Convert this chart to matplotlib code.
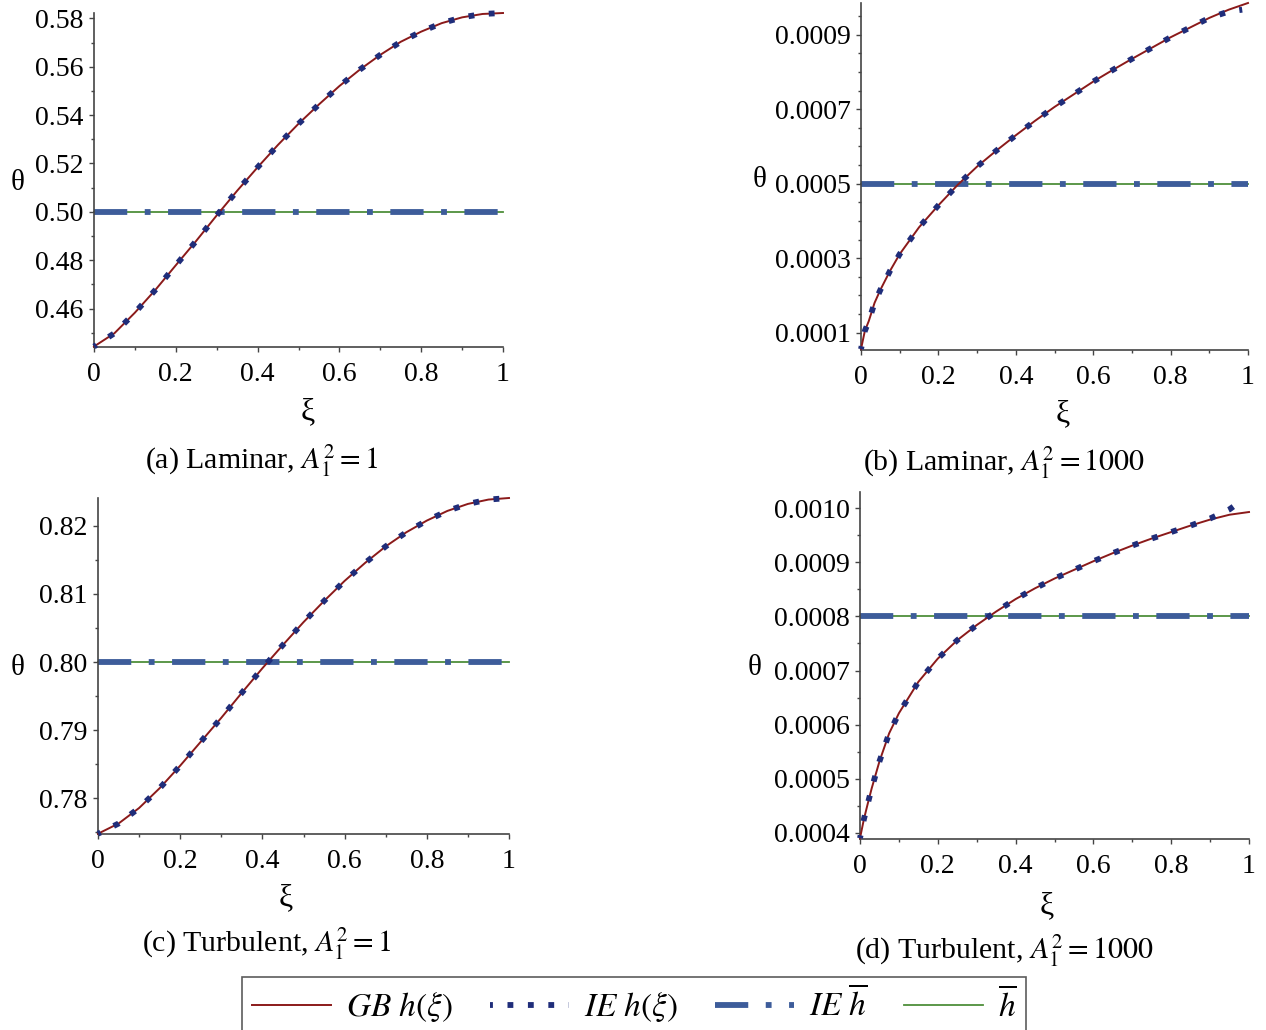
import matplotlib
matplotlib.use("Agg")
import matplotlib.pyplot as plt
from matplotlib.lines import Line2D
from matplotlib.ticker import FixedLocator

plt.rcParams['font.family'] = ['Liberation Serif', 'DejaVu Serif']
plt.rcParams['mathtext.fontset'] = 'stix'

# ---------------- data ----------------
# (a) Laminar, A1^2 = 1
xi_a = [0.0, 0.05, 0.1, 0.15, 0.2, 0.25, 0.3, 0.35, 0.4, 0.45, 0.5,
        0.55, 0.6, 0.65, 0.7, 0.75, 0.8, 0.85, 0.9, 0.95, 1.0]
gb_a = [0.4443, 0.4498, 0.4583, 0.4677, 0.4779, 0.4880, 0.4985, 0.5087, 0.5184,
        0.5277, 0.5364, 0.5444, 0.5520, 0.5588, 0.5649, 0.5703, 0.5745, 0.5780,
        0.5804, 0.5818, 0.5822]
ie_a = gb_a
hbar_a = 0.50

# (b) Laminar, A1^2 = 1000
xi_b = [0.0, 0.01, 0.02, 0.035, 0.05, 0.075, 0.1, 0.15, 0.2, 0.25, 0.3, 0.35, 0.4,
        0.45, 0.5, 0.55, 0.6, 0.65, 0.7, 0.75, 0.8, 0.85, 0.9, 0.95, 1.0]
gb_b = [0.000056, 0.000105, 0.000131, 0.000180, 0.000215, 0.000266, 0.000311,
        0.000383, 0.000442, 0.000497, 0.000546, 0.000589, 0.000630, 0.000669,
        0.000706, 0.000740, 0.000774, 0.000805, 0.000835, 0.000864, 0.000893,
        0.000919, 0.000945, 0.000967, 0.000985]
xi_b_ie = [0.0, 0.01, 0.02, 0.035, 0.05, 0.075, 0.1, 0.15, 0.2, 0.25, 0.3, 0.35, 0.4,
           0.45, 0.5, 0.55, 0.6, 0.65, 0.7, 0.75, 0.8, 0.85, 0.9, 0.95, 0.985]
ie_b = [0.000056, 0.000105, 0.000131, 0.000180, 0.000215, 0.000266, 0.000311,
        0.000383, 0.000442, 0.000497, 0.000546, 0.000589, 0.000630, 0.000669,
        0.000706, 0.000740, 0.000774, 0.000805, 0.000835, 0.000864, 0.000893,
        0.000919, 0.000945, 0.000962, 0.000967]
hbar_b = 0.0005

# (c) Turbulent, A1^2 = 1
xi_c = [0.0, 0.05, 0.1, 0.15, 0.2, 0.25, 0.3, 0.35, 0.4, 0.45, 0.5,
        0.55, 0.6, 0.65, 0.7, 0.75, 0.8, 0.85, 0.9, 0.95, 1.0]
gb_c = [0.77478, 0.77628, 0.77856, 0.78147, 0.78478, 0.78829, 0.79181, 0.79549,
        0.79909, 0.80252, 0.80586, 0.80897, 0.81192, 0.81457, 0.81699, 0.81906,
        0.82078, 0.82220, 0.82323, 0.82387, 0.82410]
ie_c = gb_c
hbar_c = 0.80

# (d) Turbulent, A1^2 = 1000
xi_d = [0.0, 0.01, 0.02, 0.03, 0.05, 0.075, 0.1, 0.15, 0.2, 0.25, 0.3, 0.35, 0.4,
        0.45, 0.5, 0.55, 0.6, 0.65, 0.7, 0.75, 0.8, 0.85, 0.9, 0.95, 1.0]
gb_d = [0.000390, 0.000425, 0.000454, 0.000482, 0.000532, 0.000584, 0.000621,
        0.000679, 0.000722, 0.000756, 0.000784, 0.000809, 0.000832, 0.000852,
        0.000870, 0.000886, 0.000902, 0.000917, 0.000931, 0.000944, 0.000956,
        0.000968, 0.000979, 0.000988, 0.000993]
xi_d_ie = [0.0, 0.01, 0.02, 0.03, 0.05, 0.075, 0.1, 0.15, 0.2, 0.25, 0.3, 0.35, 0.4,
           0.45, 0.5, 0.55, 0.6, 0.65, 0.7, 0.75, 0.8, 0.85, 0.9, 0.95, 0.975]
ie_d = [0.000390, 0.000425, 0.000454, 0.000482, 0.000532, 0.000584, 0.000621,
        0.000679, 0.000722, 0.000756, 0.000784, 0.000809, 0.000832, 0.000852,
        0.000870, 0.000886, 0.000902, 0.000917, 0.000931, 0.000944, 0.000956,
        0.000968, 0.000981, 0.000998, 0.001011]
hbar_d = 0.0008

xticks = [0, 0.2, 0.4, 0.6, 0.8, 1.0]
xticklabels = ["0", "0.2", "0.4", "0.6", "0.8", "1"]
xminor = [0.1, 0.3, 0.5, 0.7, 0.9]

yticks_a = [0.46, 0.48, 0.50, 0.52, 0.54, 0.56, 0.58]
ylabels_a = ["0.46", "0.48", "0.50", "0.52", "0.54", "0.56", "0.58"]
yminor_a = [0.45, 0.47, 0.49, 0.51, 0.53, 0.55, 0.57]
yticks_b = [0.0001, 0.0003, 0.0005, 0.0007, 0.0009]
ylabels_b = ["0.0001", "0.0003", "0.0005", "0.0007", "0.0009"]
yminor_b = [0.00015, 0.0002, 0.00025, 0.00035, 0.0004, 0.00045, 0.00055, 0.0006,
            0.00065, 0.00075, 0.0008, 0.00085, 0.00095]
yticks_c = [0.78, 0.79, 0.80, 0.81, 0.82]
ylabels_c = ["0.78", "0.79", "0.80", "0.81", "0.82"]
yminor_c = [0.775, 0.785, 0.795, 0.805, 0.815]
yticks_d = [0.0004, 0.0005, 0.0006, 0.0007, 0.0008, 0.0009, 0.0010]
ylabels_d = ["0.0004", "0.0005", "0.0006", "0.0007", "0.0008", "0.0009", "0.0010"]
yminor_d = [0.00045, 0.00055, 0.00065, 0.00075, 0.00085, 0.00095]

captions = ["(a) Laminar, $A_1^2 = 1$", "(b) Laminar, $A_1^2 = 1000$",
            "(c) Turbulent, $A_1^2 = 1$", "(d) Turbulent, $A_1^2 = 1000$"]
legend_labels = [r"$GB\ h(\xi)$", r"$IE\ h(\xi)$", r"$IE\ \overline{h}$", r"$\overline{h}$"]

# ---------------- styling ----------------
W, H = 1266, 1030
RED = '#8b1a1a'
NAVY = '#1f2d7a'
STEEL = '#3d5c9a'
GREEN = '#4e8f3a'
AXC = '#444444'
FS = 20
DASHDOT = (0, (5.7, 3.0, 1.0, 3.0))
DOTS = (0.5, (1.0, 2.5))

fig = plt.figure(figsize=(W / 100, H / 100), dpi=100)


def make_axes(l, r, t, b):
    return fig.add_axes([l / W, 1 - b / H, (r - l) / W, (b - t) / H])


def draw(ax, xi, gb, xi_ie, ie, hbar, ylim, yt, yl, ym):
    ax.plot([0, 1], [hbar, hbar], color=GREEN, lw=1.3, zorder=1, clip_on=False)
    ax.plot([0, 1], [hbar, hbar], color=STEEL, lw=4.2, zorder=2,
            linestyle=DASHDOT, clip_on=False)
    ax.plot(xi, gb, color=RED, lw=1.4, zorder=3, clip_on=False)
    ax.plot(xi_ie, ie, color=NAVY, lw=4.2, zorder=4,
            linestyle=DOTS, clip_on=False)
    ax.set_xlim(0, 1)
    ax.set_ylim(*ylim)
    for s in ['top', 'right']:
        ax.spines[s].set_visible(False)
    for s in ['left', 'bottom']:
        ax.spines[s].set_color(AXC)
        ax.spines[s].set_linewidth(1.2)
    ax.set_xticks(xticks)
    ax.set_xticklabels(xticklabels)
    ax.xaxis.set_minor_locator(FixedLocator(xminor))
    ax.set_yticks(yt)
    ax.set_yticklabels(yl)
    ax.yaxis.set_minor_locator(FixedLocator(ym))
    ax.tick_params(which='major', length=3.5, width=1, color=AXC, labelsize=FS, pad=4)
    ax.tick_params(axis='x', which='major', pad=7)
    ax.tick_params(which='minor', length=2, width=1, color=AXC)
    ax.patch.set_alpha(0)


ax_a = make_axes(94, 503, 13, 347)
draw(ax_a, xi_a, gb_a, xi_a, ie_a, hbar_a, (0.4441, 0.5822), yticks_a, ylabels_a, yminor_a)
ax_b = make_axes(861, 1248, 3, 350)
draw(ax_b, xi_b, gb_b, xi_b_ie, ie_b, hbar_b, (0.0000536, 0.000985), yticks_b, ylabels_b, yminor_b)
ax_c = make_axes(98, 509, 498, 834)
draw(ax_c, xi_c, gb_c, xi_c, ie_c, hbar_c, (0.77474, 0.82410), yticks_c, ylabels_c, yminor_c)
ax_d = make_axes(860, 1249, 492, 839)
draw(ax_d, xi_d, gb_d, xi_d_ie, ie_d, hbar_d, (0.0003885, 0.00103), yticks_d, ylabels_d, yminor_d)

# axis labels and captions (figure pixel positions)
theta_pos = [(18, 183), (760, 180), (18, 668), (755, 668)]
xi_pos = [(308, 412), (1063, 414), (286, 898), (1047, 906)]
cap_pos = [(261, 461), (1004, 463), (267, 944), (1004, 951)]
for (tx, ty), (xx, xy), (cx, cy), cap in zip(theta_pos, xi_pos, cap_pos, captions):
    fig.text(tx / W, 1 - ty / H, "θ", fontsize=FS + 1, ha='center', va='center')
    fig.text(xx / W, 1 - xy / H, "ξ", fontsize=FS + 3, ha='center', va='center')
    fig.text(cx / W, 1 - cy / H, cap, fontsize=FS + 1.5, ha='center', va='center')

handles = [
    Line2D([], [], color=RED, lw=1.4),
    Line2D([], [], color=NAVY, lw=4.2, linestyle=DOTS),
    Line2D([], [], color=STEEL, lw=4.2, linestyle=DASHDOT),
    Line2D([], [], color=GREEN, lw=1.3),
]
leg = fig.legend(handles, legend_labels, loc='upper left',
                 bbox_to_anchor=(242 / W, 1 - 977 / H), ncol=4, fontsize=FS + 4,
                 handlelength=2.37, handletextpad=0.45, columnspacing=1.1,
                 borderaxespad=0, frameon=True, fancybox=False, borderpad=0.3)
leg.get_frame().set_edgecolor('#333333')
leg.get_frame().set_linewidth(1.2)

fig.savefig("out.png", dpi=100)
